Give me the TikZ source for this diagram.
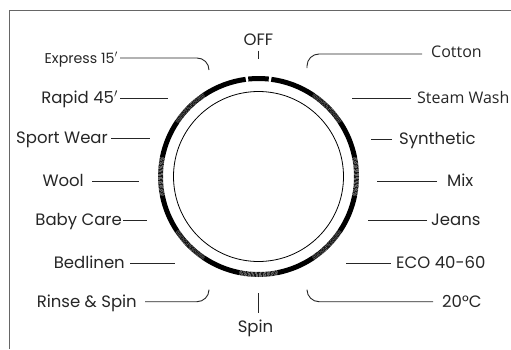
\documentclass[tikz,border=0pt]{standalone}
\usepackage{fontspec}
\setmainfont{Poppins}
\newfontfamily\humfont{Open Sans}
\usetikzlibrary{positioning}

\begin{document}
\begin{tikzpicture}[x=1pt, y=1pt]
\tikzstyle{lbl} = [inner sep=0pt, text height=11.5pt, text depth=0pt, font=\fontsize{16.5}{19}\selectfont, text=black!85]
\tikzstyle{smalllbl} = [lbl, font=\fontsize{14.2}{17}\selectfont, text height=10pt]
\tikzstyle{humlbl} = [lbl, font=\humfont\fontsize{16}{19}\selectfont]
\tikzstyle{lead} = [line width=0.9pt, black!85]
\tikzstyle{solidseg} = [line width=5pt]
\tikzstyle{hatchseg} = [line width=5pt, black!90, dash pattern=on 0.9pt off 0.45pt]
\tikzstyle{frame} = [line width=1pt, black!60]

\useasboundingbox (0,0) rectangle (511,349);
\draw[frame] (9,0) -- (9,338) -- (511,338);

% dial
\coordinate (c) at (258.5,172.5);
\draw[line width=0.8pt] (c) circle[radius=85];
\foreach \i [evaluate=\i as \a using 90-22.5*\i] in {3,5,...,13}
  \draw[solidseg] ([shift={(\a+11.25:98)}]c) arc[start angle=\a+11.25, end angle=\a-11.25, radius=98];
\foreach \i [evaluate=\i as \a using 90-22.5*\i] in {2,4,...,14}
  \draw[hatchseg] ([shift={(\a+11.25:98)}]c) arc[start angle=\a+11.25, end angle=\a-11.25, radius=98];
\draw[solidseg] ([shift={(82.5:98)}]c) arc[start angle=82.5, end angle=56.25, radius=98];
\draw[solidseg] ([shift={(96:98)}]c) arc[start angle=96, end angle=84, radius=98];
\draw[solidseg] ([shift={(123.75:98)}]c) arc[start angle=123.75, end angle=97.5, radius=98];

% top and bottom
\node[lbl] (off) at (258.5,309) {OFF};
\coordinate (off-a) at (258.5,298.3);
\coordinate (off-b) at (258.5,289.7);
\draw[lead] (off-a) -- (off-b);
\node[lbl] (spin) at (255.5,22.3) {Spin};
\coordinate (spin-a) at (258.5,56);
\coordinate (spin-b) at (258.5,36.3);
\draw[lead] (spin-a) -- (spin-b);

% left labels
\node[smalllbl, anchor=east] (express) at (118,291) {Express 15$'$};
\node[lbl, anchor=east] (rapid) at (118,251) {Rapid 45$'$};
\node[lbl, anchor=east] (sport) at (108,211) {Sport Wear};
\node[lbl, anchor=east] (wool) at (84,168) {Wool};
\node[lbl, anchor=east] (baby) at (122,129) {Baby Care};
\node[lbl, anchor=east] (bed) at (125,86) {Bedlinen};
\node[lbl, anchor=east] (rinse) at (137,47.3) {Rinse \& Spin};

\coordinate (express-end) at (209,279);
\coordinate (rapid-end) at (168,251);
\coordinate (sport-end) at (150,211);
\coordinate (wool-end) at (139,168);
\coordinate (baby-end) at (147,129);
\coordinate (bed-end) at (175,86);
\coordinate (rinse-end) at (209,58);

\draw[lead, rounded corners=12pt] ([xshift=2pt]express.east) -- (express-end |- express.east) -- (express-end);
\draw[lead] ([xshift=2pt]rapid.east) -- (rapid-end);
\draw[lead] ([xshift=3pt]sport.east) -- (sport-end);
\draw[lead] ([xshift=8pt]wool.east) -- (wool-end);
\draw[lead] ([xshift=1pt]baby.east) -- (baby-end);
\draw[lead] ([xshift=5pt]bed.east) -- (bed-end);
\draw[lead, rounded corners=12pt] ([xshift=8pt]rinse.east) -- (rinse-end |- rinse.east) -- (rinse-end);

% right labels
\node[humlbl, anchor=west] (cotton) at (431,297) {Cotton};
\node[humlbl, anchor=west] (steam) at (417,251) {Steam Wash};
\node[lbl, anchor=west] (synth) at (399,210) {Synthetic};
\node[lbl, anchor=west] (mix) at (447,168) {Mix};
\node[lbl, anchor=west] (jeans) at (431,129) {Jeans};
\node[lbl, anchor=west] (eco) at (396,86) {ECO 40-60};
\node[lbl, anchor=west] (cold) at (442,47.3) {20\textdegree C};

\coordinate (cotton-l) at ([xshift=-9pt,yshift=-2pt]cotton.west);
\coordinate (cotton-end) at (307,281);
\coordinate (steam-end) at (352,251);
\coordinate (synth-end) at (371,210);
\coordinate (mix-end) at (377,168);
\coordinate (jeans-end) at (368,129);
\coordinate (eco-end) at (346,86);
\coordinate (cold-end) at (307,58);

\draw[lead, rounded corners=12pt] (cotton-l) -- (cotton-end |- cotton-l) -- (cotton-end);
\draw[lead] ([xshift=-6pt]steam.west) -- (steam-end);
\draw[lead] ([xshift=-7pt]synth.west) -- (synth-end);
\draw[lead] ([xshift=-10pt]mix.west) -- (mix-end);
\draw[lead] ([xshift=-4pt]jeans.west) -- (jeans-end);
\draw[lead] ([xshift=-5pt]eco.west) -- (eco-end);
\draw[lead, rounded corners=12pt] ([xshift=-9pt]cold.west) -- (cold-end |- cold.west) -- (cold-end);
\end{tikzpicture}
\end{document}
